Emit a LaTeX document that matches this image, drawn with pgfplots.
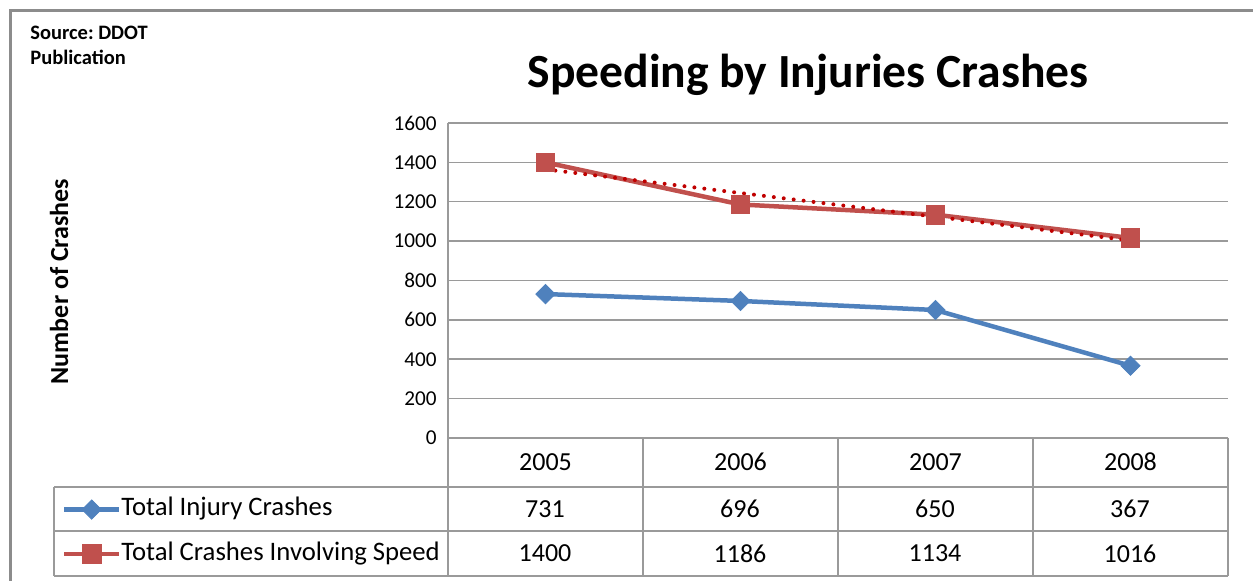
\documentclass[border=0pt]{standalone}
\usepackage{fontspec}
\setmainfont{Carlito}
\usepackage{pgfplots}
\pgfplotsset{compat=1.18}
\definecolor{injblue}{HTML}{4F81BD}
\definecolor{spdred}{HTML}{C0504D}
\definecolor{trendred}{HTML}{C00000}
\definecolor{rulegray}{HTML}{9A9A9A}
\definecolor{framegray}{HTML}{8C8C8C}
\frenchspacing

% crashes per year (0 = 2005)
\pgfplotstableread{
x injury speed
0 731 1400
1 696 1186
2 650 1134
3 367 1016
}\crashdata

\begin{document}
\begin{tikzpicture}[x=0.5pt,y=0.5pt]
\useasboundingbox (0,0) rectangle (1253,581);
\clip (0,0) rectangle (1253,581);
\draw[framegray, line width=1.5pt] (10,570) rectangle (1300,-40);

\begin{axis}[
  at={(224pt,71.5pt)}, anchor=south west,
  scale only axis, width=390pt, height=157.5pt,
  xmin=-0.5, xmax=3.5, ymin=0, ymax=1600,
  xtick={0,1,2,3}, xticklabels={2005,2006,2007,2008},
  ytick={0,200,...,1600},
  major tick length=0pt,
  axis line style={draw=none},
  ymajorgrids, grid style={rulegray, line width=0.75pt},
  /pgf/number format/assume math mode=true,
  /pgf/number format/1000 sep={},
  yticklabel style={font=\fontsize{10.6}{12}\selectfont, anchor=east, inner sep=0pt, xshift=-5.5pt},
  xticklabel style={font=\fontsize{13}{15}\selectfont, anchor=center, inner sep=0pt, yshift=-12pt},
  clip=false,
  legend style={at={(-0.4949,-0.1892)}, anchor=north west, draw=none, fill=none,
    inner sep=0pt, outer sep=0pt, row sep=10.25pt,
    font=\fontsize{13.35}{15}\selectfont,
    nodes={inner sep=0pt, text height=9pt, text depth=3pt},
    /tikz/every even column/.append style={column sep=3pt}},
  legend cell align=left,
  legend image code/.code={%
    \draw[mark repeat=2,mark phase=2,#1] plot coordinates {(0pt,0pt) (13.75pt,0pt) (27.5pt,0pt)};
  },
]
\addplot[injblue, line width=2.25pt, mark=square*, mark size=3.4pt,
  mark options={solid, rotate=45, line width=0.4pt}] table[x=x,y=injury]{\crashdata};
\addlegendentry{Total Injury Crashes}
\addplot[spdred, line width=2.25pt, mark=square*, mark size=4.6pt,
  mark options={solid, line width=0.4pt}] table[x=x,y=speed]{\crashdata};
\addlegendentry{Total Crashes Involving Speed}
% linear trendline of the speed series
\addplot[trendred, line width=2pt, line cap=round, dash pattern=on 0pt off 5pt, forget plot]
  coordinates {(0,1364.6) (3,1003.4)};
\end{axis}

% data table grid
\begin{scope}[rulegray, line width=0.75pt]
\draw (448,458) -- (448,5);
\draw (448,143) -- (1228,143);
\draw (54,94) -- (1228,94);
\draw (54,50) -- (1228,50);
\draw (54,5) -- (1228,5);
\draw (54,94) -- (54,5);
\foreach \xx in {643,838,1033,1228} \draw (\xx,143) -- (\xx,5);
\end{scope}

\begin{scope}[font=\fontsize{13}{15}\selectfont, inner sep=0pt, anchor=center]
\node at (545,72) {731};  \node at (740,72) {696};  \node at (935,72) {650};  \node at (1130,72) {367};
\node at (545,27.5) {1400}; \node at (740,27.5) {1186}; \node at (935,27.5) {1134}; \node at (1130,27.5) {1016};
\end{scope}

\node[font=\bfseries\fontsize{23.8}{28}\selectfont, anchor=base] at (808,493) {Speeding by Injuries Crashes};
\node[font=\bfseries\fontsize{10.25}{12.5}\selectfont, anchor=base west, inner sep=0pt] at (30,541) {Source: DDOT};
\node[font=\bfseries\fontsize{10.25}{12.5}\selectfont, anchor=base west, inner sep=0pt] at (30,516) {Publication};
\node[font=\bfseries\fontsize{13}{15}\selectfont, rotate=90, anchor=base, inner sep=0pt] at (68,299.5) {Number of Crashes};
\end{tikzpicture}
\end{document}
